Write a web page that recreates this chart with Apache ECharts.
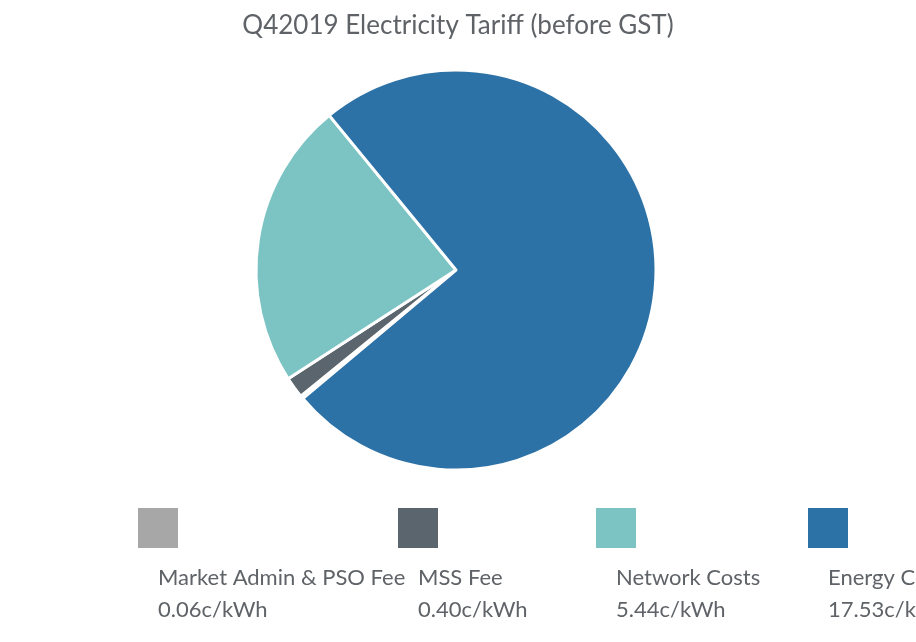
<!DOCTYPE html>
<html>
<head>
<meta charset="utf-8">
<script src="https://cdn.jsdelivr.net/npm/echarts@6/dist/echarts.min.js"></script>
<style>html,body{margin:0;padding:0;background:#fff}#main{width:916px;height:642px}</style>
</head>
<body>
<div id="main"></div>
<script>
var names = ['Market Admin & PSO Fee', 'MSS Fee', 'Network Costs', 'Energy Costs'];
var values = [0.06, 0.40, 5.44, 17.53];
var colors = ['#a7a7a7', '#5a656d', '#7bc4c3', '#2d72a7'];
var legendX = [158, 418, 616, 828];

var myChart = echarts.init(document.getElementById('main'));

// legend: square on top, name and value underneath
var graphics = [];
names.forEach(function (n, i) {
    graphics.push({
        type: 'rect', left: legendX[i] - 20, top: 508,
        shape: { width: 40, height: 40 }, style: { fill: colors[i] }
    });
    graphics.push({
        type: 'text', left: legendX[i], top: 562,
        style: {
            text: n + '\n' + values[i].toFixed(2) + 'c/kWh',
            fill: '#5f6368', font: '22px Lato', align: 'center', lineHeight: 32
        }
    });
});
// center the text elements on legendX
graphics.forEach(function (g) {
    if (g.type === 'text') { delete g.left; g.x = legendX[graphics.indexOf(g) >> 1]; g.y = 562; }
});

var option = {
    animation: false,
    title: {
        text: 'Q42019 Electricity Tariff (before GST)',
        left: 'center', top: 8,
        textStyle: { color: '#5f6368', fontSize: 26, fontWeight: 'normal', fontFamily: 'Lato' }
    },
    graphic: graphics,
    series: [{
        type: 'pie',
        center: [456, 270],
        radius: 200,
        startAngle: 220,
        clockwise: true,
        label: { show: false },
        labelLine: { show: false },
        itemStyle: { borderColor: '#fff', borderWidth: 3 },
        data: names.map(function (n, i) {
            return { name: n, value: values[i], itemStyle: { color: colors[i] } };
        })
    }]
};
myChart.setOption(option);
</script>
</body>
</html>
